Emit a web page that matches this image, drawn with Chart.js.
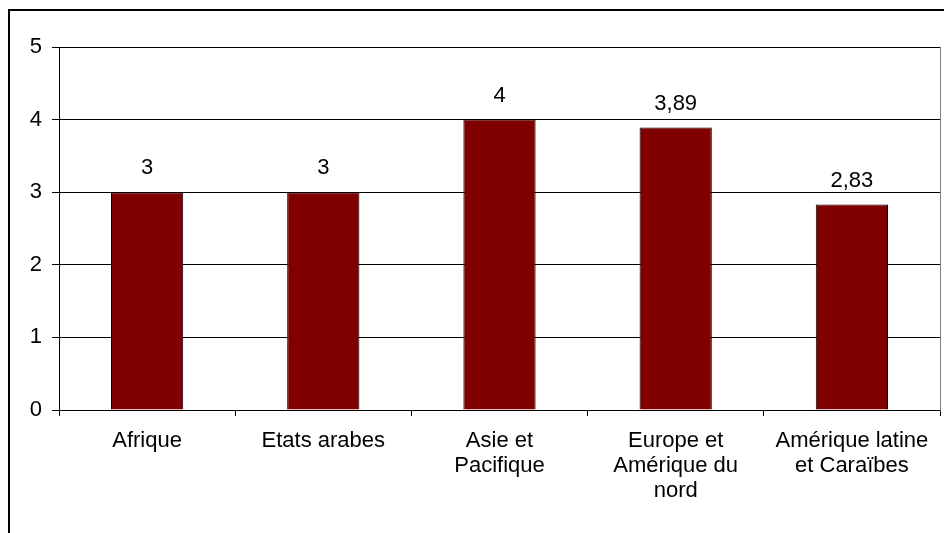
<!DOCTYPE html>
<html>
<head>
<meta charset="utf-8">
<script src="https://cdn.jsdelivr.net/npm/chart.js@4"></script>
<style>
  html, body { margin: 0; padding: 0; background: #fff; }
  #wrap { position: relative; width: 944px; height: 533px; overflow: hidden; }
  #frame { position: absolute; left: 8px; top: 9px; width: 1000px; height: 600px;
           border-left: 2px solid #000; border-top: 2px solid #000; }
  canvas { position: absolute; left: 0; top: 0; }
</style>
</head>
<body>
<div id="wrap">
  <div id="frame"></div>
  <canvas id="barChart" width="944" height="533"></canvas>
</div>
<script>
const regions = [
  'Afrique',
  'Etats arabes',
  ['Asie et', 'Pacifique'],
  ['Europe et', 'Amérique du', 'nord'],
  ['Amérique latine', 'et Caraïbes']
];
const scores = [3, 3, 4, 3.89, 2.83];
const yTicks = [0, 1, 2, 3, 4, 5];

const font = { family: '"Liberation Sans", Arial, sans-serif', size: 22 };

// value labels above each bar, decimal comma
const barLabels = {
  id: 'barLabels',
  afterDatasetsDraw(chart) {
    const ctx = chart.ctx;
    ctx.save();
    ctx.font = `${font.size}px ${font.family}`;
    ctx.fillStyle = '#000';
    ctx.textAlign = 'center';
    ctx.textBaseline = 'middle';
    chart.getDatasetMeta(0).data.forEach((bar, i) => {
      ctx.fillText(String(scores[i]).replace('.', ','), bar.x, bar.y - 24);
    });
    ctx.restore();
  }
};

const ctx = document.getElementById('barChart').getContext('2d');

const chart = new Chart(ctx, {
  type: 'bar',
  data: {
    labels: regions,
    datasets: [{
      data: scores,
      backgroundColor: '#800000',
      borderColor: '#000',
      borderWidth: 1,
      barPercentage: 0.41,
      categoryPercentage: 1
    }]
  },
  options: {
    responsive: false,
    animation: false,
    layout: { padding: { left: 0, top: 47, right: 4, bottom: 0 } },
    plugins: { legend: { display: false }, tooltip: { enabled: false } },
    scales: {
      x: {
        offset: true,
        grid: { offset: true, drawOnChartArea: false, drawTicks: true, tickLength: 6, color: '#000' },
        border: { color: '#000', width: 1 },
        ticks: { color: '#000', font: { ...font, lineHeight: 1.14 }, padding: 12, maxRotation: 0, autoSkip: false },
        afterFit(scale) { scale.height = 123; }
      },
      y: {
        min: 0,
        max: 5,
        afterBuildTicks(scale) { scale.ticks = yTicks.map(v => ({ value: v })); },
        grid: { color: '#000', tickLength: 7, drawTicks: true },
        border: { color: '#000', width: 1 },
        ticks: { color: '#000', font: font, padding: 10 },
        afterFit(scale) { scale.width = 59; }
      },
      y2: {
        position: 'right',
        min: 0,
        max: 5,
        grid: { display: false },
        ticks: { display: false },
        border: { color: '#808080', width: 1 },
        afterFit(scale) { scale.width = 0; }
      }
    }
  },
  plugins: [barLabels]
});
</script>
</body>
</html>
